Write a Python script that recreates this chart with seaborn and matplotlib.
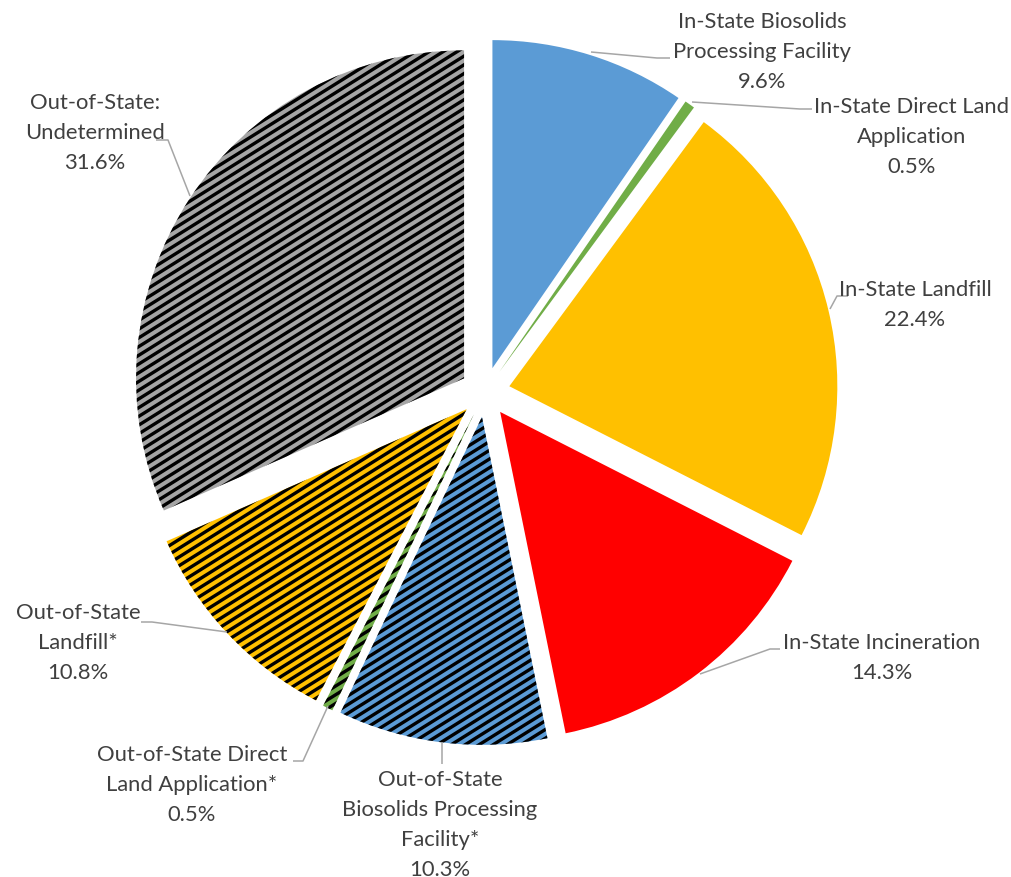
import matplotlib
matplotlib.use("Agg")
import numpy as np
import matplotlib.pyplot as plt
from matplotlib.collections import LineCollection
import seaborn as sns

# ---- data ----
categories = [
    "In-State Biosolids\nProcessing Facility",
    "In-State Direct Land\nApplication",
    "In-State Landfill",
    "In-State Incineration",
    "Out-of-State\nBiosolids Processing\nFacility*",
    "Out-of-State Direct\nLand Application*",
    "Out-of-State\nLandfill*",
    "Out-of-State:\nUndetermined",
]
shares = [9.6, 0.5, 22.4, 14.3, 10.3, 0.5, 10.8, 31.6]
hatched = [False, False, False, False, True, True, True, True]
colors = ["#5B9BD5", "#70AD47", "#FFC000", "#FF0000",
          "#5B9BD5", "#70AD47", "#FFC000", "#A5A5A5"]

# ---- layout (pixel coordinates, y downwards) ----
label_pos = [(762, 52), (912, 137), (915, 305), (882, 658),
             (440, 825), (192, 785), (78, 643), (95, 133)]
leaders = [
    [(591, 53), (657, 59), (670, 59)],
    [(692, 103), (800, 110), (812, 110)],
    [(830, 310), (837, 297), (848, 297)],
    [(700, 675), (770, 650), (780, 650)],
    [(442, 743), (442, 765)],
    [(328, 707), (303, 762), (293, 762)],
    [(227, 633), (152, 623), (141, 623)],
    [(190, 197), (168, 141), (156, 141)],
]

sns.set_theme(style="white")
plt.rcParams['font.family'] = ['Lato', 'DejaVu Sans']

palette = sns.color_palette(colors)

W, H = 1012, 878
CX, CY, R = 485, 393, 328
fig = plt.figure(figsize=(W / 100, H / 100), dpi=100)
ax = fig.add_axes([0, 0, 1, 1])

wedges, _ = ax.pie(shares, colors=palette, startangle=-90, counterclock=True,
                   center=(CX, CY), radius=R, explode=[25] * len(shares),
                   wedgeprops=dict(linewidth=0, edgecolor='none'), frame=False)

# diagonal stripe texture (black, ~32 degrees, rising to the right)
ang = np.deg2rad(32)
d = np.array([np.cos(ang), -np.sin(ang)])   # along stripe (y axis inverted)
n = np.array([np.sin(ang), np.cos(ang)])    # perpendicular
spacing = 7.4
L = 2 * R + 100
for w, h in zip(wedges, hatched):
    if not h:
        continue
    segs = []
    c = np.array([CX, CY])
    for k in np.arange(-int(L / spacing), int(L / spacing) + 1):
        p = c + k * spacing * n
        segs.append([p - L * d, p + L * d])
    lc = LineCollection(segs, colors='black', linewidths=2.4,
                        antialiaseds=True, zorder=w.get_zorder() + 0.1)
    ax.add_collection(lc)
    lc.set_clip_path(w)

ax.set_xlim(0, W)
ax.set_ylim(H, 0)
ax.set_aspect('equal')
ax.axis('off')

for cat, val, (x, y) in zip(categories, shares, label_pos):
    ax.text(x, y, f"{cat}\n{val:.1f}%", ha='center', va='center',
            multialignment='center', fontsize=15.8, color='#404040',
            linespacing=1.62)

for pts in leaders:
    xs = [p[0] for p in pts]
    ys = [p[1] for p in pts]
    ax.plot(xs, ys, color='#A6A6A6', lw=1.1, solid_capstyle='butt')

fig.savefig("out.png", dpi=100)
